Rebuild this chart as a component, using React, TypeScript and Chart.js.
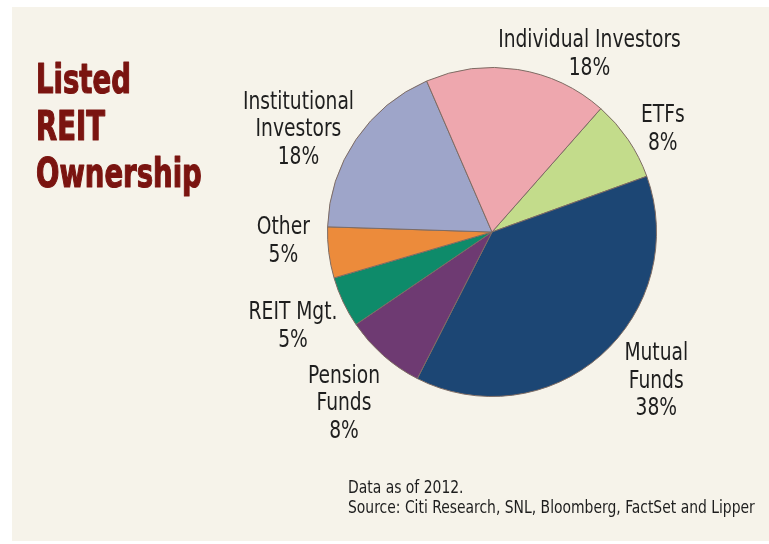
import React, { useEffect, useRef } from "react";
import { Chart, registerables } from "chart.js";

Chart.register(...registerables);

const categories = [
  "ETFs",
  "Mutual Funds",
  "Pension Funds",
  "REIT Mgt.",
  "Other",
  "Institutional Investors",
  "Individual Investors",
];
const shares = [8, 38, 8, 5, 5, 18, 18];
const labelLines = [
  ["ETFs"],
  ["Mutual", "Funds"],
  ["Pension", "Funds"],
  ["REIT Mgt."],
  ["Other"],
  ["Institutional", "Investors"],
  ["Individual Investors"],
];
const sliceColors = ["#c3dc8b", "#1c4674", "#6e3a72", "#0e8b6a", "#ec8b3b", "#9ea5c9", "#eea7ae"];
const titleLines = ["Listed", "REIT", "Ownership"];
const footnotes = ["Data as of 2012.", "Source: Citi Research, SNL, Bloomberg, FactSet and Lipper"];

// label placement: angle (deg clockwise from top) and distance in radii
const labelPlacement = [
  [59.1, 1.21],
  [132.3, 1.35],
  [220.7, 1.38],
  [244.5, 1.34],
  [267.3, 1.27],
  [297.8, 1.33],
  [28.8, 1.23],
];

const FONT = '"Liberation Sans Narrow", "DejaVu Sans Condensed", "Roboto", sans-serif';

function drawScaled(
  ctx: CanvasRenderingContext2D,
  text: string,
  x: number,
  y: number,
  sx: number,
  stroke = 0
) {
  ctx.save();
  ctx.translate(x, y);
  ctx.scale(sx, 1);
  ctx.fillText(text, 0, 0);
  if (stroke > 0) {
    ctx.lineWidth = stroke;
    ctx.lineJoin = "round";
    ctx.strokeText(text, 0, 0);
  }
  ctx.restore();
}

const textPlugin = {
  id: "reitText",
  afterDraw(chart: any) {
    const ctx = chart.ctx as CanvasRenderingContext2D;
    const meta = chart.getDatasetMeta(0);
    const arc = meta.data[0] as any;
    if (!arc) return;
    const cx = arc.x;
    const cy = arc.y;
    const R = arc.outerRadius;
    ctx.save();
    ctx.fillStyle = "#1e1e1e";
    ctx.font = `24px ${FONT}`;
    ctx.textAlign = "center";
    ctx.textBaseline = "middle";
    const lh = 27.5;
    labelLines.forEach((lines, i) => {
      const [ang, k] = labelPlacement[i];
      const a = (ang * Math.PI) / 180;
      const x = cx + k * R * Math.sin(a);
      const y = cy - k * R * Math.cos(a);
      const all = [...lines, `${shares[i]}%`];
      const y0 = y - ((all.length - 1) * lh) / 2;
      all.forEach((t, j) => drawScaled(ctx, t, x, y0 + j * lh, 0.865));
    });

    // title
    ctx.fillStyle = "#7a1410";
    ctx.strokeStyle = "#7a1410";
    ctx.font = `bold 40px ${FONT}`;
    ctx.textAlign = "left";
    titleLines.forEach((t, j) => drawScaled(ctx, t, 36, 83 + j * 47, 0.765, 1.2));

    // footnotes
    ctx.fillStyle = "#1e1e1e";
    ctx.font = `17px ${FONT}`;
    footnotes.forEach((t, j) => drawScaled(ctx, t, 348, 489 + j * 20, 0.91));
    ctx.restore();
  },
};

export default function App() {
  const ref = useRef<HTMLCanvasElement | null>(null);
  useEffect(() => {
    if (!ref.current) return;
    const chart = new Chart(ref.current, {
      type: "pie",
      data: {
        labels: categories,
        datasets: [
          {
            data: shares,
            backgroundColor: sliceColors,
            borderColor: "#7d6b63",
            borderWidth: 1,
            hoverOffset: 0,
          },
        ],
      },
      options: {
        responsive: false,
        maintainAspectRatio: false,
        animation: false,
        events: [],
        rotation: 41.4,
        layout: { padding: { left: 327, top: 67, right: 112, bottom: 147 } },
        plugins: {
          legend: { display: false },
          tooltip: { enabled: false },
          title: { display: false },
        },
      },
      plugins: [textPlugin],
    });
    return () => chart.destroy();
  }, []);

  return (
    <div
      style={{
        position: "fixed",
        left: 0,
        top: 0,
        width: 769,
        height: 544,
        background: "#ffffff",
        overflow: "hidden",
      }}
    >
      <div
        style={{
          position: "absolute",
          left: 12,
          top: 7,
          right: 0,
          bottom: 3,
          background: "#f6f3ea",
        }}
      />
      <canvas ref={ref} width={769} height={544} style={{ position: "absolute", left: 0, top: 0 }} />
    </div>
  );
}
